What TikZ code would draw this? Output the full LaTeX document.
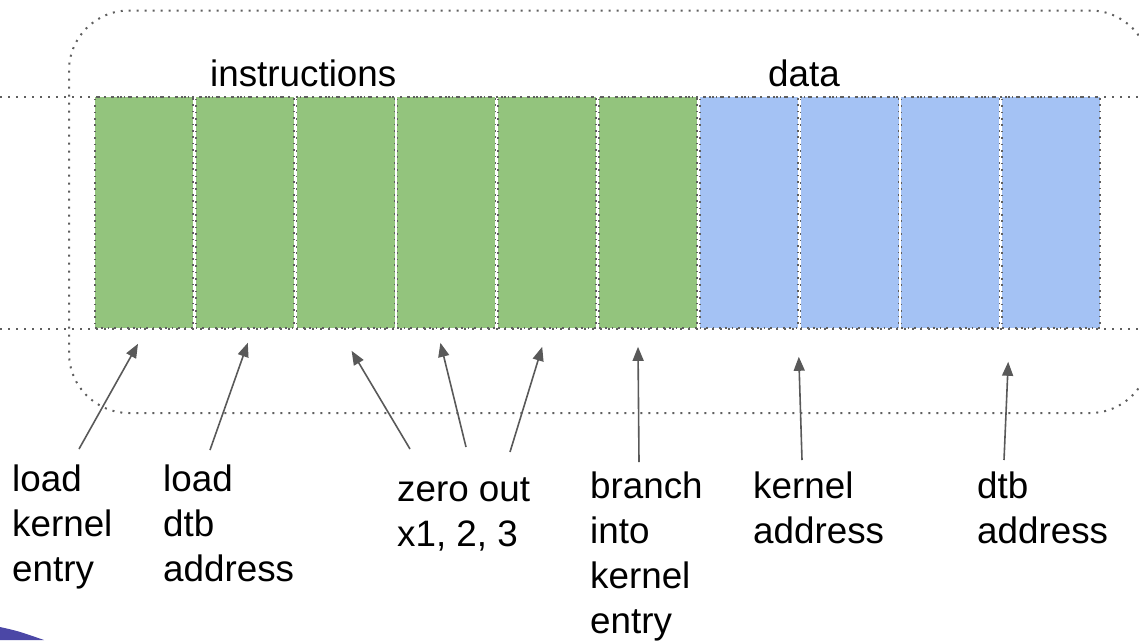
\documentclass[tikz,border=0pt]{standalone}
\usepackage{fontspec}
\setmainfont{Liberation Sans}
\usetikzlibrary{arrows.meta}
\definecolor{insgreen}{HTML}{93C47D}
\definecolor{datblue}{HTML}{A4C2F4}
\definecolor{dotgray}{HTML}{5F5F5F}
\definecolor{arrgray}{HTML}{595959}
\definecolor{slidepurple}{HTML}{4B47A6}
\begin{document}
\begin{tikzpicture}[x=1pt,y=-1pt,
  every node/.style={font=\fontsize{36.8}{45}\selectfont,inner sep=0pt},
  dotline/.style={dotgray,line width=2pt,dash pattern=on 2pt off 6pt},
  cell/.style={minimum width=98pt,minimum height=231pt,draw=dotgray,line width=1.6pt,dash pattern=on 1.6pt off 4.8pt},
  lbl/.style={anchor=north west,align=left},
  arr/.style={arrgray,line width=1.6pt,-{Triangle[length=14pt,width=11pt]}}]
\useasboundingbox (0,0) rectangle (1139,640);
\clip (0,0) rectangle (1139,640);
\fill[slidepurple] (0,627) .. controls (18,631) .. (44,640) -- (0,640) -- cycle;
% frame and rails
\draw[dotline,rounded corners=60pt] (69,10.5) rectangle (1150,413);
\foreach \i in {1,...,6}
  \node[cell,fill=insgreen] (c\i) at ({144+100.8*(\i-1)},212.5) {};
\foreach \i in {7,...,10}
  \node[cell,fill=datblue] (c\i) at ({144+100.8*(\i-1)},212.5) {};
\draw[dotline] (0,97) -- (1139,97);
\draw[dotline] (0,329) -- (1139,329);
\node[anchor=base west] (ins) at (210,86) {instructions};
\node[anchor=base west] (dat) at (768,86) {data};
% labels
\node[lbl] (lke) at (12,465) {load\\kernel\\entry};
\node[lbl] (lda) at (163,465) {load\\dtb\\address};
\node[lbl] (zro) at (397,477) {zero out\\x1, 2, 3};
\node[lbl] (bke) at (590,472) {branch\\into\\kernel\\entry};
\node[lbl] (kad) at (753,472) {kernel\\address};
\node[lbl] (dad) at (977,472) {dtb\\address};
% arrow tips
\coordinate (h1) at ([xshift=-6pt,yshift=-15pt]c1.south);
\coordinate (h2) at ([xshift=3pt,yshift=-14pt]c2.south);
\coordinate (h3) at ([xshift=6pt,yshift=-22pt]c3.south);
\coordinate (h4) at ([xshift=-6pt,yshift=-14pt]c4.south);
\coordinate (h5) at ([xshift=-5pt,yshift=-18pt]c5.south);
\coordinate (h6) at ([xshift=-10pt,yshift=-18pt]c6.south);
\coordinate (h7) at ([xshift=50pt,yshift=-28pt]c7.south);
\coordinate (h8) at ([xshift=-43pt,yshift=-33pt]c10.south);
\draw[arr] ([xshift=67pt,yshift=16pt]lke.north west) -- (h1);
\draw[arr] ([xshift=47pt,yshift=15pt]lda.north west) -- (h2);
\draw[arr] ([xshift=13pt,yshift=28pt]zro.north west) -- (h3);
\draw[arr] ([xshift=69pt,yshift=30pt]zro.north west) -- (h4);
\draw[arr] ([xshift=113pt,yshift=25pt]zro.north west) -- (h5);
\draw[arr] ([xshift=49pt,yshift=10pt]bke.north west) -- (h6);
\draw[arr] ([xshift=49pt,yshift=12pt]kad.north west) -- (h7);
\draw[arr] ([xshift=27pt,yshift=12pt]dad.north west) -- (h8);
\end{tikzpicture}
\end{document}
